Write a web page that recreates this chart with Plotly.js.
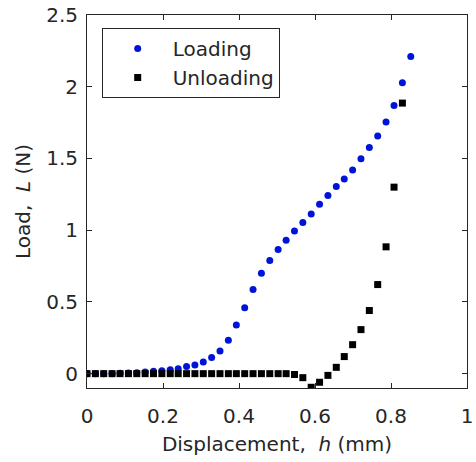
<!DOCTYPE html>
<html>
<head>
<meta charset="utf-8">
<script src="https://cdn.plot.ly/plotly-3.0.1.min.js"></script>
<style>html,body{margin:0;padding:0;background:#fff;}#chart{width:476px;height:462px;}</style>
</head>
<body>
<div id="chart"></div>
<script>
// Displacement h (mm) for each sample
const displacement = [0, 0.022, 0.044, 0.066, 0.087, 0.109, 0.131, 0.153, 0.175, 0.197,
  0.219, 0.240, 0.262, 0.284, 0.306, 0.328, 0.350, 0.372, 0.393, 0.415,
  0.437, 0.459, 0.481, 0.503, 0.524, 0.546, 0.568, 0.590, 0.612, 0.634,
  0.656, 0.677, 0.699, 0.721, 0.743, 0.765, 0.787, 0.808, 0.830, 0.852];

// Loading load L (N)
const loadingLoad = [0, 0, 0, 0, 0.002, 0.004, 0.006, 0.012, 0.016, 0.02,
  0.028, 0.035, 0.049, 0.06, 0.081, 0.112, 0.158, 0.233, 0.34, 0.46,
  0.586, 0.70, 0.789, 0.865, 0.93, 0.995, 1.054, 1.112, 1.18, 1.242,
  1.305, 1.356, 1.419, 1.498, 1.577, 1.656, 1.754, 1.870, 2.028, 2.21];

// Unloading load L (N) (one fewer point)
const unloadingDisp = displacement.slice(0, 39);
const unloadingLoad = [0, 0, 0, 0, 0, 0, 0, 0, 0, 0,
  0, 0, 0, 0, 0, 0, 0, 0, 0, 0,
  0, 0, 0, 0, 0, -0.006, -0.028, -0.095, -0.06, -0.012,
  0.044, 0.119, 0.202, 0.307, 0.44, 0.621, 0.884, 1.30, 1.886];

const xTickVals = [0, 0.2, 0.4, 0.6, 0.8, 1];
const xTickText = ['0', '0.2', '0.4', '0.6', '0.8', '1'];
const yTickVals = [0, 0.5, 1, 1.5, 2, 2.5];
const yTickText = ['0', '0.5', '1', '1.5', '2', '2.5'];

const ink = '#262626';
const fontFam = 'DejaVu Sans, Liberation Sans, Arial, sans-serif';

const traces = [
  {x: displacement, y: loadingLoad, name: 'Loading', type: 'scatter', mode: 'markers',
   marker: {symbol: 'circle', size: 7, color: 'rgb(0,20,215)'}},
  {x: unloadingDisp, y: unloadingLoad, name: 'Unloading', type: 'scatter', mode: 'markers',
   marker: {symbol: 'square', size: 7, color: '#000000'}}
];

const axisCommon = {
  showline: true, linecolor: ink, linewidth: 1, mirror: 'ticks',
  ticks: 'inside', ticklen: 5, tickcolor: ink, tickwidth: 1,
  showgrid: false, zeroline: false,
  tickfont: {family: fontFam, size: 20, color: ink}
};

const layout = {
  width: 476, height: 462,
  margin: {l: 87, r: 9, t: 15, b: 74},
  paper_bgcolor: '#fff', plot_bgcolor: '#fff',
  showlegend: true,
  font: {family: fontFam, size: 20, color: ink},
  xaxis: Object.assign({}, axisCommon, {
    range: [0, 1], tickvals: xTickVals, ticktext: xTickText,
    ticklabelstandoff: 10,
    title: {text: 'Displacement,&nbsp; <i>h</i> (mm)', font: {family: fontFam, size: 20, color: ink}, standoff: 9}
  }),
  yaxis: Object.assign({}, axisCommon, {
    range: [-0.1, 2.5], tickvals: yTickVals, ticktext: yTickText,
    ticklabelstandoff: 4,
    title: {text: 'Load,&nbsp; <i>L</i> (N)', font: {family: fontFam, size: 20, color: ink}, standoff: 10}
  }),
  legend: {
    x: 0.0387, y: 0.965, xanchor: 'left', yanchor: 'top',
    bgcolor: '#fff', bordercolor: ink, borderwidth: 1,
    font: {family: fontFam, size: 20, color: ink},
    itemwidth: 60
  }
};

Plotly.newPlot('chart', traces, layout, {staticPlot: true, displayModeBar: false});
</script>
</body>
</html>
